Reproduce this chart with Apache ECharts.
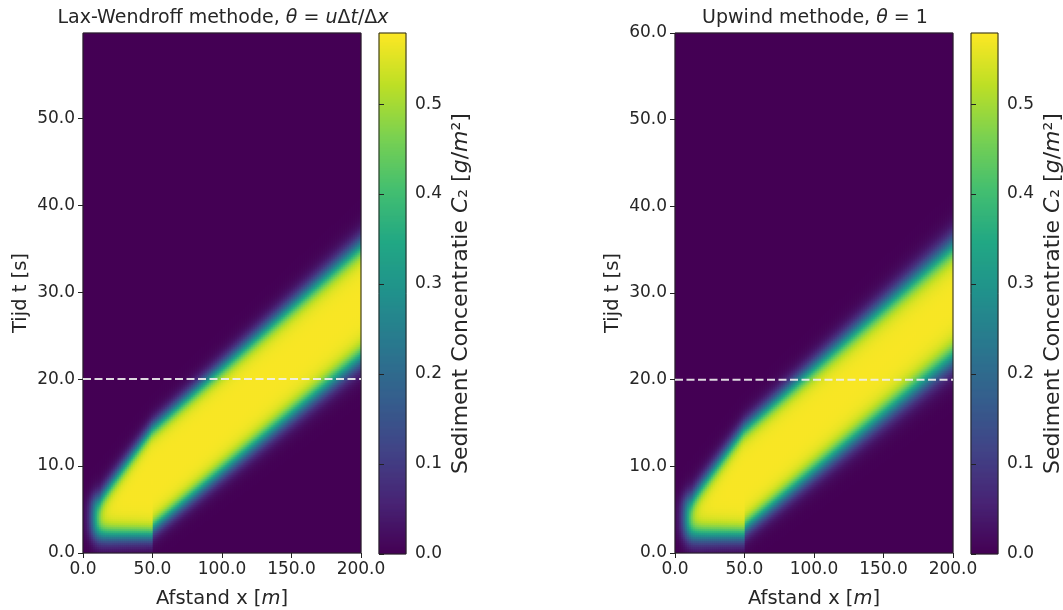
<!DOCTYPE html>
<html>
<head>
<meta charset="utf-8">
<script src="https://cdn.jsdelivr.net/npm/echarts@6/dist/echarts.min.js"></script>
<style>
  html, body { margin: 0; padding: 0; background: #fff; }
  #chart { width: 1063px; height: 610px; }
</style>
</head>
<body>
<div id="chart"></div>
<script>
// Axis ticks
const xTicks = [0, 50, 100, 150, 200];
const tTicksLW = [0, 10, 20, 30, 40, 50];
const tTicksUp = [0, 10, 20, 30, 40, 50, 60];
const cbTicks = [0, 0.1, 0.2, 0.3, 0.4, 0.5];

// Domain and colour scale
const xMax = 200;
const tMaxLW = 59.8;
const tMaxUp = 60;
const cbMax = 0.579;
const peakConc = 0.575;
const cutTime = 20;

// Sediment plume outline (x in m, t in s)
const lowerEdgeX = [0, 50, 50.5, 200];
const lowerEdgeT = [2.0, 2.0, 2.9, 22.5];
const upperEdgeX = [0, 12, 50, 200];
const upperEdgeT = [6.2, 6.2, 14.4, 35.5];
const leftEdgeX = 8;
const leftEdgeW = 4.5;

// Front smearing per scheme (s), at widthX positions
const widthX = [0, 12, 50, 200];
const widthLW = [1.25, 1.35, 1.2, 1.65];
const widthUp = [1.3, 1.45, 1.3, 1.9];

// Field resolution: 139 x 260 cells
const nx = 139, nt = 260;
const dx = xMax / nx, dt = tMaxUp / nt;

const viridis = ['#440154', '#482475', '#414487', '#355f8d', '#2a788e',
  '#21918c', '#22a884', '#44bf70', '#7ad151', '#bddf26', '#fde725'];

function interp(xs, ys, x) {
  if (x <= xs[0]) return ys[0];
  for (let k = 1; k < xs.length; k++) {
    if (x <= xs[k]) {
      const f = (x - xs[k - 1]) / (xs[k] - xs[k - 1]);
      return ys[k - 1] + f * (ys[k] - ys[k - 1]);
    }
  }
  return ys[ys.length - 1];
}
function step(z) { return 0.5 * (1 + Math.tanh(z)); }

function buildField(widths) {
  const out = [];
  for (let i = 0; i < nx; i++) {
    const x = (i + 0.5) * dx;
    const tl = interp(lowerEdgeX, lowerEdgeT, x);
    const tu = interp(upperEdgeX, upperEdgeT, x);
    const w = interp(widthX, widths, x);
    const sx = step((x - leftEdgeX) / leftEdgeW);
    for (let j = 0; j < nt; j++) {
      const t = (j + 0.5) * dt;
      const v = peakConc * step((t - tl) / w) * step((tu - t) / w) * sx;
      out.push([i, j, Math.round(v * 10000) / 10000]);
    }
  }
  return out;
}

const xCats = Array.from({ length: nx }, (_, i) => ((i + 0.5) * dx).toFixed(3));
const tCats = Array.from({ length: nt }, (_, j) => ((j + 0.5) * dt).toFixed(3));
const cbN = 521;
const cbCats = Array.from({ length: cbN }, (_, k) => String(k));
const cbData = cbCats.map((_, k) => [0, k, (k + 0.5) / cbN * cbMax]);

const FONT = 'DejaVu Sans';
const TXT = '#262626';
const FS_TICK = 17;
const FS_NAME = 19.5;
const FS_TITLE = 19;
const FS_CB = 22;
const italOf = fs => ({ fontStyle: 'italic', fontFamily: FONT, fontSize: fs, color: TXT });

const fmt1 = v => Number(v).toFixed(1);

// Panel layout
const panels = [
  { left: 83, cbLeft: 379, tMax: tMaxLW, tTicks: tTicksLW, widths: widthLW,
    title: 'Lax-Wendroff methode, {i|θ} = {i|u}Δ{i|t}/Δ{i|x}' },
  { left: 675, cbLeft: 971, tMax: tMaxUp, tTicks: tTicksUp, widths: widthUp,
    title: 'Upwind methode, {i|θ} = 1' }
];
const TOP = 33, H = 520, W = 278, CBW = 27;

const grid = [], xAxis = [], yAxis = [], series = [], title = [];
const heatIdx = [];
const fixedBox = { outerBoundsMode: 'none', containLabel: false };

panels.forEach((p) => {
  const g0 = grid.length;
  grid.push(Object.assign({ left: p.left, top: TOP, width: W, height: H }, fixedBox));
  grid.push(Object.assign({ left: p.left, top: TOP, width: W, height: H, show: true,
    borderColor: '#222', borderWidth: 1, backgroundColor: 'transparent', z: 10 }, fixedBox));
  grid.push(Object.assign({ left: p.cbLeft, top: TOP, width: CBW, height: H + 1 }, fixedBox));
  grid.push(Object.assign({ left: p.cbLeft, top: TOP, width: CBW, height: H + 1, show: true,
    borderColor: '#222', borderWidth: 1, backgroundColor: 'transparent', z: 10 }, fixedBox));

  const ax0 = xAxis.length;
  // field cells
  xAxis.push({ type: 'category', gridIndex: g0, data: xCats, show: false });
  yAxis.push({ type: 'category', gridIndex: g0, data: tCats, show: false });
  // visible value axes
  xAxis.push({
    type: 'value', gridIndex: g0 + 1, min: 0, max: xMax, z: 10,
    splitLine: { show: false }, axisLine: { show: false },
    axisTick: { show: true, length: 5, lineStyle: { color: '#222' }, customValues: xTicks },
    axisLabel: { customValues: xTicks, formatter: fmt1, color: TXT, fontFamily: FONT, fontSize: FS_TICK, margin: 8 },
    name: 'Afstand x [{i|m}]', nameLocation: 'middle', nameGap: 36,
    nameTextStyle: { color: TXT, fontFamily: FONT, fontSize: FS_NAME, rich: { i: italOf(FS_NAME) } }
  });
  yAxis.push({
    type: 'value', gridIndex: g0 + 1, min: 0, max: p.tMax, z: 10,
    splitLine: { show: false }, axisLine: { show: false },
    axisTick: { show: true, length: 5, lineStyle: { color: '#222' }, customValues: p.tTicks },
    axisLabel: { customValues: p.tTicks, formatter: fmt1, color: TXT, fontFamily: FONT, fontSize: FS_TICK, margin: 8 },
    name: 'Tijd t [s]', nameLocation: 'middle', nameGap: 52, nameRotate: 90,
    nameTextStyle: { color: TXT, fontFamily: FONT, fontSize: FS_NAME }
  });
  // colorbar cells
  xAxis.push({ type: 'category', gridIndex: g0 + 2, data: ['c'], show: false });
  yAxis.push({ type: 'category', gridIndex: g0 + 2, data: cbCats, show: false });
  // colorbar scale
  xAxis.push({ type: 'value', gridIndex: g0 + 3, min: 0, max: 1, show: false });
  yAxis.push({
    type: 'value', gridIndex: g0 + 3, position: 'right', min: 0, max: cbMax, z: 10,
    splitLine: { show: false }, axisLine: { show: false },
    axisTick: { show: true, length: 5, lineStyle: { color: '#222' }, customValues: cbTicks },
    axisLabel: { customValues: cbTicks, formatter: fmt1, color: TXT, fontFamily: FONT, fontSize: FS_TICK, margin: 9 },
    name: 'Sediment Concentratie {i|C}₂ [{i|g}/{i|m}²]', nameLocation: 'middle', nameGap: 44, nameRotate: 90,
    nameTextStyle: { color: TXT, fontFamily: FONT, fontSize: FS_CB, rich: { i: italOf(FS_CB) } }
  });

  heatIdx.push(series.length);
  series.push({
    type: 'heatmap', xAxisIndex: ax0, yAxisIndex: ax0, data: buildField(p.widths),
    progressive: 0, animation: false, emphasis: { disabled: true }, z: 2
  });
  series.push({
    type: 'line', xAxisIndex: ax0 + 1, yAxisIndex: ax0 + 1,
    data: [[0, cutTime], [xMax, cutTime]], symbol: 'none', z: 12, silent: true,
    lineStyle: { color: 'rgba(240,240,240,0.9)', width: 2, type: [8, 3.5] }
  });
  heatIdx.push(series.length);
  series.push({
    type: 'heatmap', xAxisIndex: ax0 + 2, yAxisIndex: ax0 + 2, data: cbData,
    progressive: 0, animation: false, emphasis: { disabled: true }, z: 2
  });

  title.push({
    text: p.title, left: p.left + W / 2 - 4, top: 4, textAlign: 'center',
    textStyle: { color: TXT, fontFamily: FONT, fontSize: FS_TITLE, fontWeight: 'normal', rich: { i: italOf(FS_TITLE) } }
  });
});

const chart = echarts.init(document.getElementById('chart'), null, { renderer: 'canvas' });
chart.setOption({
  animation: false,
  backgroundColor: '#fff',
  textStyle: { fontFamily: FONT },
  title,
  grid, xAxis, yAxis, series,
  visualMap: {
    type: 'continuous', show: false, min: 0, max: cbMax, dimension: 2,
    seriesIndex: heatIdx, inRange: { color: viridis }
  }
});
</script>
</body>
</html>
